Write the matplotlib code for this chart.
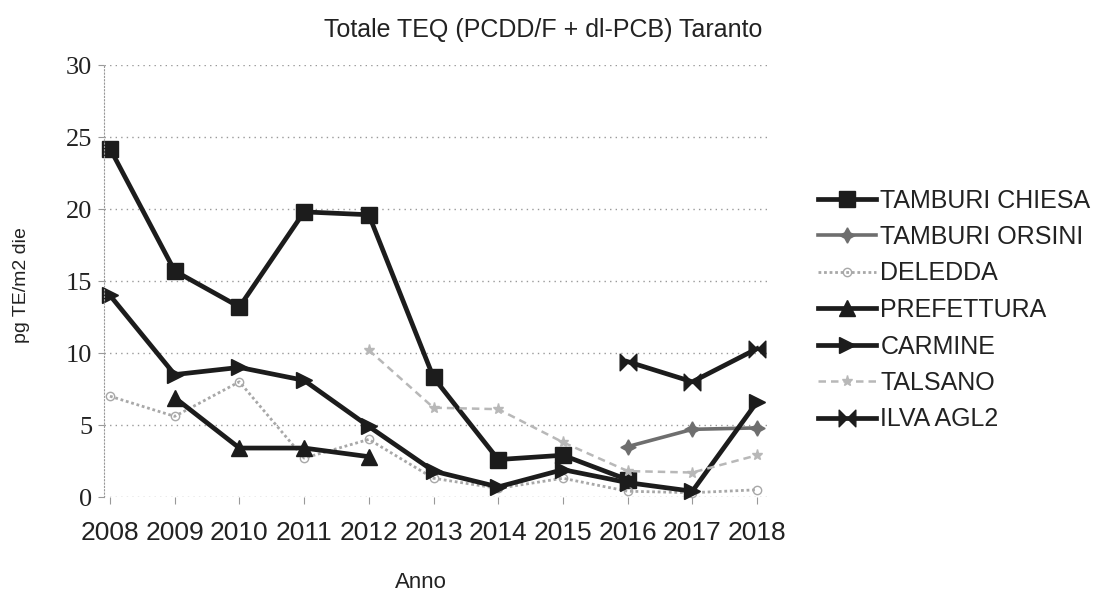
import matplotlib
matplotlib.use('Agg')
import matplotlib.pyplot as plt
import numpy as np
from matplotlib.path import Path

nan = np.nan
years = ['2008', '2009', '2010', '2011', '2012', '2013', '2014', '2015', '2016', '2017', '2018']
tamburi_chiesa = [24.2, 15.7, 13.2, 19.8, 19.6, 8.3, 2.6, 2.9, 1.2, nan, nan]
tamburi_orsini = [nan, nan, nan, nan, nan, nan, nan, nan, 3.5, 4.7, 4.8]
deledda = [7.0, 5.6, 8.0, 2.7, 4.0, 1.3, 0.6, 1.3, 0.4, 0.3, 0.5]
prefettura = [nan, 6.9, 3.4, 3.4, 2.8, nan, nan, nan, nan, nan, nan]
carmine = [14.0, 8.5, 9.0, 8.1, 4.9, 1.8, 0.7, 1.9, 1.0, 0.4, 6.6]
talsano = [nan, nan, nan, nan, 10.2, 6.2, 6.1, 3.8, 1.8, 1.7, 2.9]
ilva_agl2 = [nan, nan, nan, nan, nan, nan, nan, nan, 9.4, 8.0, 10.3]
yticks = [0, 5, 10, 15, 20, 25, 30]

bowtie = Path([(-1, -1), (-1, 1), (1, -1), (1, 1), (-1, -1)],
              [Path.MOVETO, Path.LINETO, Path.LINETO, Path.LINETO, Path.CLOSEPOLY])
star4 = (4, 1, 0)

fig = plt.figure(figsize=(11.01, 5.93), dpi=100)
ax = fig.add_axes([103.5 / 1101, 1 - 497 / 593, (770 - 103.5) / 1101, (497 - 65) / 593])
x = np.arange(len(years))

series = [
    ('TAMBURI CHIESA', tamburi_chiesa, dict(color='#1c1c1c', lw=3.4, ls='-', marker='s', ms=11)),
    ('TAMBURI ORSINI', tamburi_orsini, dict(color='#6e6e6e', lw=2.6, ls='-', marker=star4, ms=11)),
    ('DELEDDA', deledda, dict(color='#a8a8a8', lw=2.0, ls=(0, (1, 1)), marker='o', ms=6, mfc='none')),
    ('PREFETTURA', prefettura, dict(color='#1c1c1c', lw=3.4, ls='-', marker='^', ms=12)),
    ('CARMINE', carmine, dict(color='#1c1c1c', lw=3.4, ls='-', marker='>', ms=12)),
    ('TALSANO', talsano, dict(color='#b8b8b8', lw=1.8, ls=(0, (3, 2)), marker='*', ms=8)),
    ('ILVA AGL2', ilva_agl2, dict(color='#1c1c1c', lw=3.4, ls='-', marker=bowtie, ms=12)),
]
for name, vals, st in series:
    ax.plot(x, vals, label=name, clip_on=False, **st)

ax.set_xlim(-0.1, 10.2)
ax.set_ylim(0, 30)
ax.set_yticks(yticks)
ax.set_yticklabels([str(v) for v in yticks], family=['Liberation Serif', 'DejaVu Serif'], fontsize=19, color='#222222')
ax.set_xticks(x)
ax.set_xticklabels(years, family=['Liberation Sans Narrow', 'Liberation Sans'], fontsize=19, color='#222222')
ax.grid(axis='y', color='#999999', ls=(0, (1, 3)), lw=1.0)
for s in ['top', 'right', 'bottom']:
    ax.spines[s].set_visible(False)
ax.spines['left'].set_color('#999999')
ax.spines['left'].set_linestyle((0, (1, 2)))
ax.tick_params(axis='y', length=4, color='#999999', pad=4)
ax.tick_params(axis='x', length=5, color='#999999', pad=12)

fig.text(421 / 1101, 1 - 582 / 593, 'Anno', ha='center', va='center',
         family=['Liberation Sans Narrow', 'Liberation Sans'], fontsize=16, color='#222222')
fig.text(22 / 1101, 1 - 285 / 593, 'pg TE/m2 die', rotation=90, ha='center', va='center',
         family=['Liberation Sans Narrow', 'Liberation Sans'], fontsize=14, color='#222222')
fig.text(543 / 1101, 1 - 30 / 593, 'Totale TEQ (PCDD/F + dl-PCB) Taranto', ha='center', va='center',
         family=['Liberation Sans Narrow', 'Liberation Sans'], fontsize=18, color='#222222')

leg = fig.legend(loc='center left', bbox_to_anchor=(818 / 1101, 1 - 310 / 593), frameon=False,
                 prop=dict(family=['Liberation Sans', 'DejaVu Sans'], size=18), handlelength=2.3,
                 handletextpad=0.2, labelspacing=0.5, borderpad=0, borderaxespad=0)
for t in leg.get_texts():
    t.set_color('#222222')

fig.savefig('out.png', dpi=100)
